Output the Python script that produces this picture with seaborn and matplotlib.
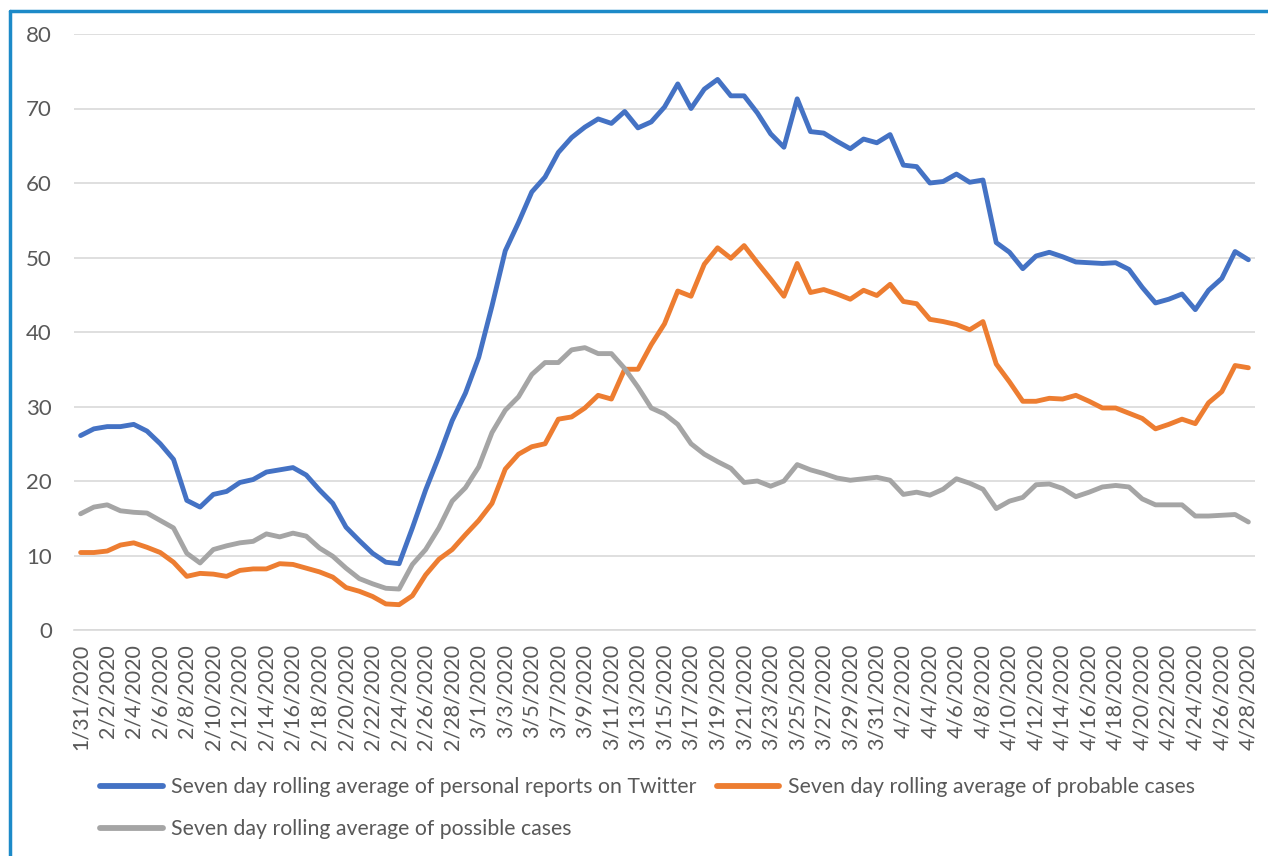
import matplotlib
matplotlib.use("Agg")
import matplotlib.pyplot as plt
import matplotlib.lines as mlines
import seaborn as sns
import pandas as pd

dates = pd.date_range("2020-01-31", "2020-04-28", freq="D")
date_labels = [f"{d.month}/{d.day}/{d.year}" for d in dates]

twitter = [26.1, 27.0, 27.3, 27.3, 27.6, 26.7, 25.0, 22.9, 17.4, 16.5,
           18.2, 18.6, 19.8, 20.2, 21.2, 21.5, 21.8, 20.8, 18.8, 17.0,
           13.8, 12.0, 10.3, 9.1, 8.9, 13.7, 18.8, 23.3, 28.1, 31.8,
           36.6, 43.5, 50.9, 54.7, 58.8, 60.8, 64.1, 66.1, 67.5, 68.6,
           68.0, 69.6, 67.4, 68.2, 70.2, 73.3, 70.0, 72.6, 73.9, 71.7,
           71.7, 69.4, 66.6, 64.8, 71.3, 66.9, 66.7, 65.6, 64.6, 65.9,
           65.4, 66.5, 62.4, 62.2, 60.0, 60.2, 61.2, 60.1, 60.4, 52.0,
           50.7, 48.5, 50.2, 50.7, 50.1, 49.4, 49.3, 49.2, 49.3, 48.4,
           46.0, 43.9, 44.4, 45.1, 43.0, 45.6, 47.2, 50.8, 49.7]

probable = [10.4, 10.4, 10.6, 11.4, 11.7, 11.1, 10.4, 9.1, 7.2, 7.6,
            7.5, 7.2, 8.0, 8.2, 8.2, 8.9, 8.8, 8.3, 7.8, 7.1,
            5.7, 5.2, 4.5, 3.5, 3.4, 4.6, 7.4, 9.5, 10.8, 12.8,
            14.7, 17.0, 21.6, 23.6, 24.6, 25.0, 28.3, 28.6, 29.8, 31.5,
            31.0, 35.0, 35.0, 38.3, 41.1, 45.5, 44.8, 49.1, 51.3, 49.9,
            51.6, 49.3, 47.1, 44.8, 49.2, 45.3, 45.7, 45.1, 44.4, 45.6,
            44.9, 46.4, 44.1, 43.8, 41.7, 41.4, 41.0, 40.3, 41.4, 35.7,
            33.3, 30.7, 30.7, 31.1, 31.0, 31.5, 30.7, 29.8, 29.8, 29.1,
            28.4, 27.0, 27.6, 28.3, 27.7, 30.5, 32.0, 35.5, 35.2]

possible = [15.6, 16.5, 16.8, 16.0, 15.8, 15.7, 14.7, 13.7, 10.3, 9.0,
            10.8, 11.3, 11.7, 11.9, 12.9, 12.5, 13.0, 12.6, 11.0, 9.9,
            8.3, 6.9, 6.2, 5.6, 5.5, 8.8, 10.8, 13.7, 17.3, 19.1,
            21.9, 26.5, 29.5, 31.3, 34.3, 35.9, 35.9, 37.6, 37.9, 37.1,
            37.1, 35.1, 32.6, 29.8, 29.0, 27.6, 25.0, 23.6, 22.6, 21.7,
            19.8, 20.0, 19.3, 20.0, 22.2, 21.5, 21.0, 20.4, 20.1, 20.3,
            20.5, 20.1, 18.2, 18.5, 18.1, 18.9, 20.3, 19.7, 18.9, 16.3,
            17.3, 17.8, 19.5, 19.6, 19.0, 17.9, 18.5, 19.2, 19.4, 19.2,
            17.6, 16.8, 16.8, 16.8, 15.3, 15.3, 15.4, 15.5, 14.5]

series_names = [
    "Seven day rolling average of personal reports on Twitter",
    "Seven day rolling average of probable cases",
    "Seven day rolling average of possible cases",
]
colors = ["#4472C4", "#ED7D31", "#A5A5A5"]
text_color = "#595959"
grid_color = "#D9D9D9"

rows = []
for name, vals in zip(series_names, [twitter, probable, possible]):
    for i, v in enumerate(vals):
        rows.append({"idx": i, "value": v, "series": name})
df = pd.DataFrame(rows)

sns.set_style("white")
plt.rcParams["font.family"] = ["Lato", "DejaVu Sans"]

W, H = 1268, 856
fig = plt.figure(figsize=(W / 100, H / 100), dpi=100)
ax = fig.add_axes([74 / W, 1 - 630 / H, (1255 - 74) / W, (630 - 34) / H])

sns.lineplot(data=df, x="idx", y="value", hue="series", hue_order=series_names,
             palette=colors, linewidth=3.5, ax=ax, legend=False)

ax.set_xlim(-0.5, len(dates) - 0.5)
ax.set_ylim(0, 80)
ax.set_yticks(range(0, 81, 10))
ax.yaxis.grid(True, color=grid_color, linewidth=1.2)
ax.set_axisbelow(True)
ax.tick_params(axis="y", length=0, pad=16, labelsize=16, labelcolor=text_color)

ax.set_xticks(range(0, len(dates), 2))
ax.set_xticklabels(date_labels[::2], rotation=90)
minor = [i - 0.5 for i in range(0, len(dates), 2)] + [len(dates) - 0.5]
ax.set_xticks(minor, minor=True)
ax.tick_params(axis="x", which="major", length=0, pad=10, labelsize=15.5,
               labelcolor=text_color)
ax.tick_params(axis="x", which="minor", length=6, width=1.2, color=grid_color,
               direction="out")
ax.set_xlabel("")
ax.set_ylabel("")

for s in ["top", "right", "left"]:
    ax.spines[s].set_visible(False)
ax.spines["bottom"].set_color(grid_color)
ax.spines["bottom"].set_linewidth(1.2)

handles = [mlines.Line2D([], [], color=c, linewidth=4.2, solid_capstyle="round")
           for c in colors]
order = [0, 2, 1]
fig.legend([handles[i] for i in order], [series_names[i] for i in order],
           ncol=2, loc="upper left", bbox_to_anchor=(100 / W, 1 - 777 / H),
           frameon=False, fontsize=15.3, labelcolor=text_color,
           handlelength=2.95, handletextpad=0.4, columnspacing=0.95,
           labelspacing=1.05, borderpad=0, borderaxespad=0)

border = "#1C8AC8"
fig.add_artist(mlines.Line2D([10 / W, 1], [1 - 11 / H, 1 - 11 / H],
                             color=border, linewidth=2.5, transform=fig.transFigure))
fig.add_artist(mlines.Line2D([10 / W, 10 / W], [0, 1 - 11 / H],
                             color=border, linewidth=2.5, transform=fig.transFigure))

fig.savefig("out.png", dpi=100, facecolor="white")
